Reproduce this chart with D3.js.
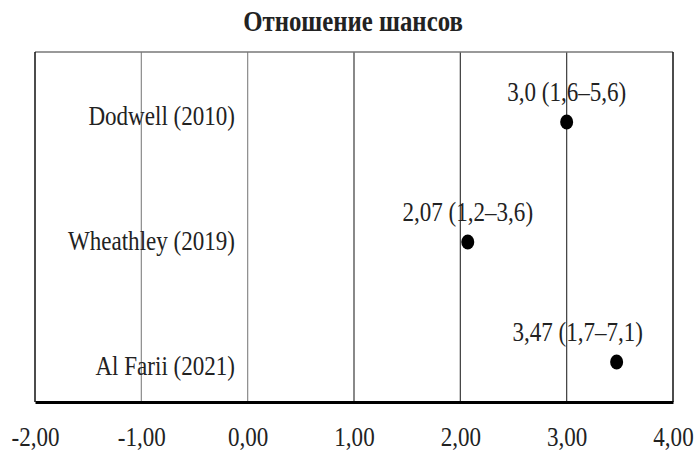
<!DOCTYPE html>
<html>
<head>
<meta charset="utf-8">
<script src="https://cdn.jsdelivr.net/npm/d3@7"></script>
<style>
  html, body { margin: 0; padding: 0; background: #fff; }
  svg { display: block; font-family: "Liberation Serif", "Times New Roman", serif; }
</style>
</head>
<body>
<svg id="chart" width="694" height="462"></svg>
<script>
// Studies and their odds ratios (95% CI)
const studies = ["Dodwell (2010)", "Wheathley (2019)", "Al Farii (2021)"];
const oddsRatios = [3.0, 2.07, 3.47];
const ciLabels = ["3,0 (1,6–5,6)", "2,07 (1,2–3,6)", "3,47 (1,7–7,1)"];
// vertical row position of each study on the 0..8.75 row axis
const rowPos = [7, 4, 1];
const xTicks = [-2, -1, 0, 1, 2, 3, 4];
const title = "Отношение шансов";

const svg = d3.select("#chart");
const plotL = 35, plotR = 673, plotT = 52, plotB = 402;
const fontSize = 26.5;
const squeeze = 0.87;   // narrow, tall serif lettering

const x = d3.scaleLinear().domain([-2, 4]).range([plotL, plotR]);
const y = d3.scaleLinear().domain([0, 8.75]).range([plotB, plotT]);
// study names sit on their own evenly spaced baselines
const yLabel = d3.scalePoint().domain(studies).range([plotT + 73, plotB - 27]);

// place a condensed text at (px, py)
function label(parent, px, py, txt, size, anchor, weight) {
  return parent.append("text")
    .attr("transform", `translate(${px},${py}) scale(${squeeze},1)`)
    .attr("text-anchor", anchor || "start")
    .attr("font-size", size)
    .attr("font-weight", weight || "normal")
    .attr("fill", "#222")
    .text(txt);
}

// title
label(svg, 353, 31, title, 28.5, "middle", "bold");

// vertical gridlines at interior ticks
svg.append("g").selectAll("line")
  .data(xTicks.slice(1, -1))
  .join("line")
  .attr("x1", d => x(d)).attr("x2", d => x(d))
  .attr("y1", plotT).attr("y2", plotB)
  .attr("stroke", d => d <= 0 ? "#8a8a8a" : "#3a3a3a")
  .attr("stroke-width", 1.2);

// frame
svg.append("line").attr("x1", plotL).attr("x2", plotR).attr("y1", plotT).attr("y2", plotT)
  .attr("stroke", "#777").attr("stroke-width", 1.5);
svg.append("line").attr("x1", plotL).attr("x2", plotL).attr("y1", plotT).attr("y2", plotB)
  .attr("stroke", "#111").attr("stroke-width", 1.5);
svg.append("line").attr("x1", plotR).attr("x2", plotR).attr("y1", plotT).attr("y2", plotB)
  .attr("stroke", "#111").attr("stroke-width", 1.5);

// x axis
const xAxis = d3.axisBottom(x)
  .tickValues(xTicks)
  .tickSize(0)
  .tickPadding(25)
  .tickFormat(d => d3.format(".2f")(d).replace("−", "-").replace(".", ","));
const gx = svg.append("g").attr("transform", `translate(0,${plotB})`).call(xAxis);
gx.select(".domain").attr("stroke", "#000").attr("stroke-width", 2.8);
gx.selectAll("text")
  .attr("font-family", "Liberation Serif, serif")
  .attr("font-size", fontSize)
  .attr("fill", "#222")
  .attr("transform", `scale(${squeeze},1)`);

// study labels
const gNames = svg.append("g");
studies.forEach(s => label(gNames, 235, yLabel(s), s, fontSize, "end"));

// points
svg.append("g").selectAll("ellipse")
  .data(oddsRatios)
  .join("ellipse")
  .attr("cx", d => x(d))
  .attr("cy", (d, i) => y(rowPos[i]))
  .attr("rx", 6.5).attr("ry", 7.5)
  .attr("fill", "#000");

// value labels above points, kept inside the frame
const gVals = svg.append("g");
ciLabels.forEach((t, i) => {
  const node = label(gVals, 0, 0, t, fontSize, "middle");
  const w = node.node().getComputedTextLength() * squeeze;
  const cx = Math.min(x(oddsRatios[i]), plotR - 30 - w / 2);
  node.attr("transform", `translate(${cx},${y(rowPos[i]) - 21}) scale(${squeeze},1)`);
});
</script>
</body>
</html>
